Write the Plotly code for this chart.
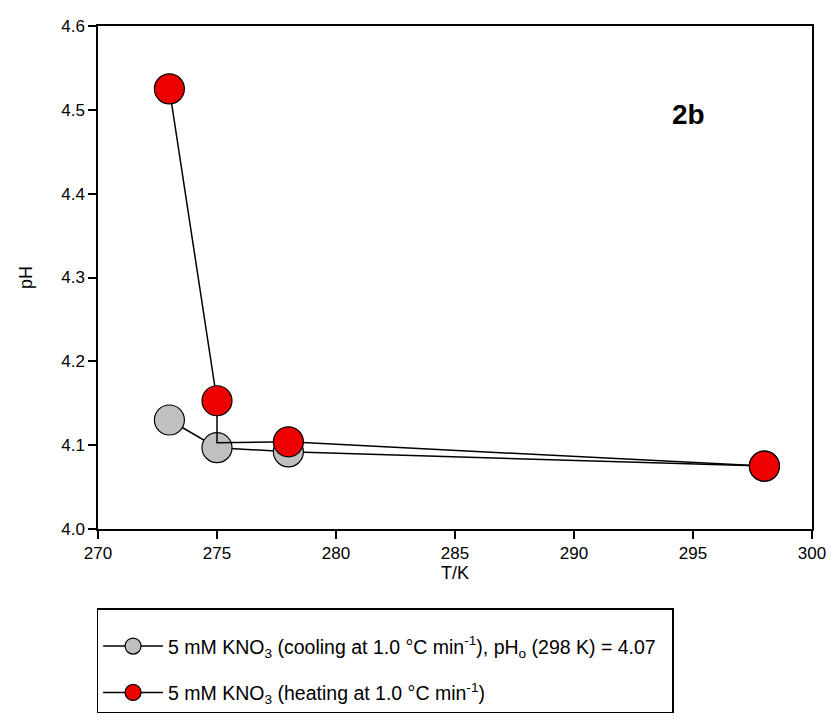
import plotly.graph_objects as go

# Temperature (K) and pH readings for the two runs
temp_cooling = [273, 275, 278, 298]
ph_cooling = [4.130, 4.097, 4.092, 4.075]

# Heating run: the connector drops straight down at 275 K before running on
# to 278 K, so one path vertex carries no symbol (size 0)
temp_heating = [273, 275, 275, 278, 298]
ph_heating = [4.525, 4.153, 4.103, 4.104, 4.075]
heating_symbol = [30, 30, 0, 30, 30]

x_ticks = [270, 275, 280, 285, 290, 295, 300]
y_ticks = [4.0, 4.1, 4.2, 4.3, 4.4, 4.5, 4.6]

label_cooling = ("5 mM KNO<sub>3</sub> (cooling at 1.0 °C min<sup>-1</sup>), "
                 "pH<sub>o</sub> (298 K) = 4.07\u00a0\u00a0")
label_heating = "5 mM KNO<sub>3</sub> (heating at 1.0 °C min<sup>-1</sup>)"

FONT = "Liberation Sans, Arial"

fig = go.Figure()
fig.add_trace(go.Scatter(
    x=temp_cooling, y=ph_cooling, mode="lines+markers", name=label_cooling,
    legendgroup="cool",
    line=dict(color="black", width=1.5),
    marker=dict(size=30, color="#c0c0c0", opacity=1,
                line=dict(color="black", width=1.2)),
))
fig.add_trace(go.Scatter(
    x=temp_heating, y=ph_heating, mode="lines+markers", name=label_heating,
    legendgroup="heat",
    line=dict(color="black", width=1.5),
    marker=dict(size=heating_symbol, color="#ee0000", opacity=1,
                line=dict(color="black", width=1.2)),
))

fig.add_annotation(x=294.8, y=4.495, text="<b>2b</b>", showarrow=False,
                   font=dict(family=FONT, size=28, color="black"))

axis_common = dict(
    showline=True, linecolor="black", linewidth=1.5, mirror=True,
    ticks="outside", ticklen=8, tickwidth=1.5, tickcolor="black",
    showgrid=False, zeroline=False,
    tickfont=dict(family=FONT, size=17, color="black"),
)

fig.update_layout(
    width=838, height=725,
    margin=dict(l=98, r=20, t=26, b=194),
    paper_bgcolor="white", plot_bgcolor="white",
    font=dict(family=FONT, color="black"),
    xaxis=dict(range=[270, 300], tickvals=x_ticks,
               title=dict(text="T/K", font=dict(size=18), standoff=2),
               **axis_common),
    yaxis=dict(range=[4.0, 4.6], tickvals=y_ticks, tickformat=".1f",
               title=dict(text="pH", font=dict(size=18), standoff=24),
               **axis_common),
    legend=dict(
        x=-0.002, xanchor="left", y=-0.158, yanchor="top",
        bordercolor="black", borderwidth=1.5, bgcolor="white",
        font=dict(family=FONT, size=19.5, color="black"),
        title=dict(text=" ", font=dict(size=13), side="top"),
        tracegroupgap=18, traceorder="grouped", itemwidth=60,
    ),
    showlegend=True,
)

fig.write_html("out.html")
